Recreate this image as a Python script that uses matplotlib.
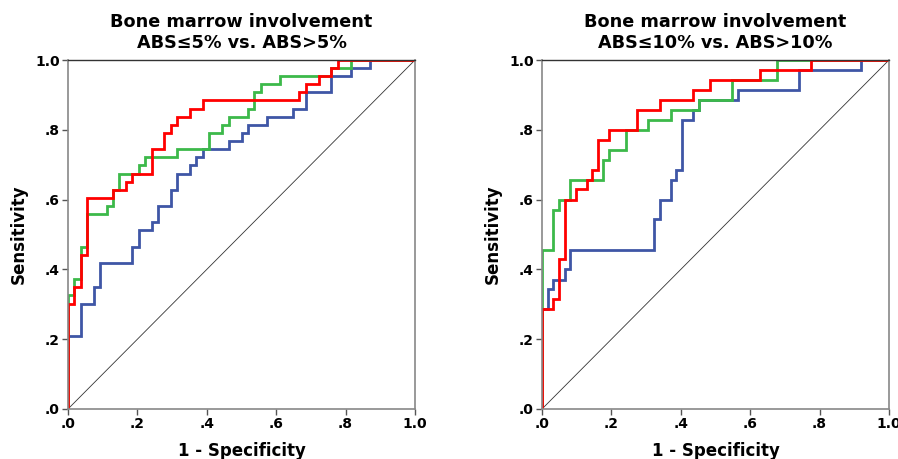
import matplotlib
matplotlib.use("Agg")
import matplotlib.pyplot as plt
import numpy as np

# ROC corner points: at each fpr the curve rises to tpr, then runs flat
# left panel: ABS<=5% vs ABS>5%
left_blue_fpr = [0, 0.037, 0.074, 0.093, 0.185, 0.204, 0.241, 0.259, 0.296, 0.315, 0.352,
                 0.370, 0.389, 0.463, 0.500, 0.519, 0.574, 0.648, 0.685, 0.759, 0.815, 0.870, 1.0]
left_blue_tpr = [0.209, 0.302, 0.349, 0.419, 0.465, 0.512, 0.535, 0.581, 0.628, 0.674, 0.698,
                 0.721, 0.744, 0.767, 0.791, 0.814, 0.837, 0.860, 0.907, 0.953, 0.977, 1.0, 1.0]
left_red_fpr = [0, 0.0185, 0.037, 0.056, 0.130, 0.167, 0.185, 0.241, 0.278, 0.296, 0.315,
                0.352, 0.389, 0.667, 0.685, 0.722, 0.759, 0.778, 1.0]
left_red_tpr = [0.302, 0.349, 0.442, 0.605, 0.628, 0.651, 0.674, 0.744, 0.791, 0.814, 0.837,
                0.860, 0.884, 0.907, 0.930, 0.953, 0.977, 1.0, 1.0]
left_green_fpr = [0, 0.0185, 0.037, 0.056, 0.111, 0.130, 0.148, 0.204, 0.222, 0.315, 0.407,
                  0.444, 0.463, 0.519, 0.537, 0.556, 0.611, 0.759, 0.815, 1.0]
left_green_tpr = [0.326, 0.372, 0.465, 0.558, 0.581, 0.628, 0.674, 0.698, 0.721, 0.744, 0.791,
                  0.814, 0.837, 0.860, 0.907, 0.930, 0.953, 0.977, 1.0, 1.0]

# right panel: ABS<=10% vs ABS>10%
right_blue_fpr = [0, 0.016, 0.032, 0.065, 0.081, 0.323, 0.339, 0.371, 0.387, 0.403, 0.435,
                  0.452, 0.565, 0.742, 0.919, 1.0]
right_blue_tpr = [0.286, 0.343, 0.371, 0.400, 0.457, 0.543, 0.600, 0.657, 0.686, 0.829, 0.857,
                  0.886, 0.914, 0.971, 1.0, 1.0]
right_red_fpr = [0, 0.032, 0.048, 0.065, 0.097, 0.129, 0.145, 0.161, 0.194, 0.274, 0.339,
                 0.435, 0.484, 0.629, 0.774, 1.0]
right_red_tpr = [0.286, 0.314, 0.429, 0.600, 0.629, 0.657, 0.686, 0.771, 0.800, 0.857, 0.886,
                 0.914, 0.943, 0.971, 1.0, 1.0]
right_green_fpr = [0, 0.032, 0.048, 0.081, 0.177, 0.194, 0.242, 0.306, 0.371, 0.452, 0.548,
                   0.677, 1.0]
right_green_tpr = [0.457, 0.571, 0.600, 0.657, 0.714, 0.743, 0.800, 0.829, 0.857, 0.886, 0.943,
                   1.0, 1.0]

titles = ["Bone marrow involvement\nABS\u22645% vs. ABS>5%",
          "Bone marrow involvement\nABS\u226410% vs. ABS>10%"]
ticks = [0, 0.2, 0.4, 0.6, 0.8, 1.0]
tick_labels = [".0", ".2", ".4", ".6", ".8", "1.0"]

BLUE = "#3F56A6"
GREEN = "#3CB94A"
RED = "#FF0000"

plt.rcParams["font.family"] = "DejaVu Sans"
font = dict(fontweight="bold")

fig = plt.figure(figsize=(8.98, 4.59), dpi=100)
panels = [
    (left_blue_fpr, left_blue_tpr, left_green_fpr, left_green_tpr, left_red_fpr, left_red_tpr),
    (right_blue_fpr, right_blue_tpr, right_green_fpr, right_green_tpr, right_red_fpr, right_red_tpr),
]
lefts = [68 / 898, 542 / 898]

for i, (bf, bt, gf, gt, rf, rt) in enumerate(panels):
    ax = fig.add_axes([lefts[i], 1 - 409 / 459, 347 / 898, 349 / 459])
    ax.plot([0, 1], [0, 1], color="#333333", lw=0.6)
    for f, t, c in [(bf, bt, BLUE), (gf, gt, GREEN), (rf, rt, RED)]:
        ax.step([0] + f, [0] + t, where="post", color=c, lw=2.0, solid_joinstyle="miter")
    ax.set_xlim(0, 1)
    ax.set_ylim(0, 1)
    ax.set_xticks(ticks)
    ax.set_yticks(ticks)
    ax.set_xticklabels(tick_labels, **font, fontsize=10)
    ax.set_yticklabels(tick_labels, **font, fontsize=10)
    ax.tick_params(direction="out", length=4, width=1, color="#555555", pad=2)
    for side in ["left", "bottom", "right"]:
        ax.spines[side].set_color("#888888")
        ax.spines[side].set_linewidth(1.2)
    ax.spines["top"].set_color("#333333")
    ax.spines["top"].set_linewidth(1.0)
    ax.set_title(titles[i], **font, fontsize=12.7, pad=9, linespacing=1.15)
    ax.set_xlabel("1 - Specificity", **font, fontsize=12, labelpad=8)
    ax.set_ylabel("Sensitivity", **font, fontsize=12, labelpad=5)

fig.savefig("out.png", dpi=100)
